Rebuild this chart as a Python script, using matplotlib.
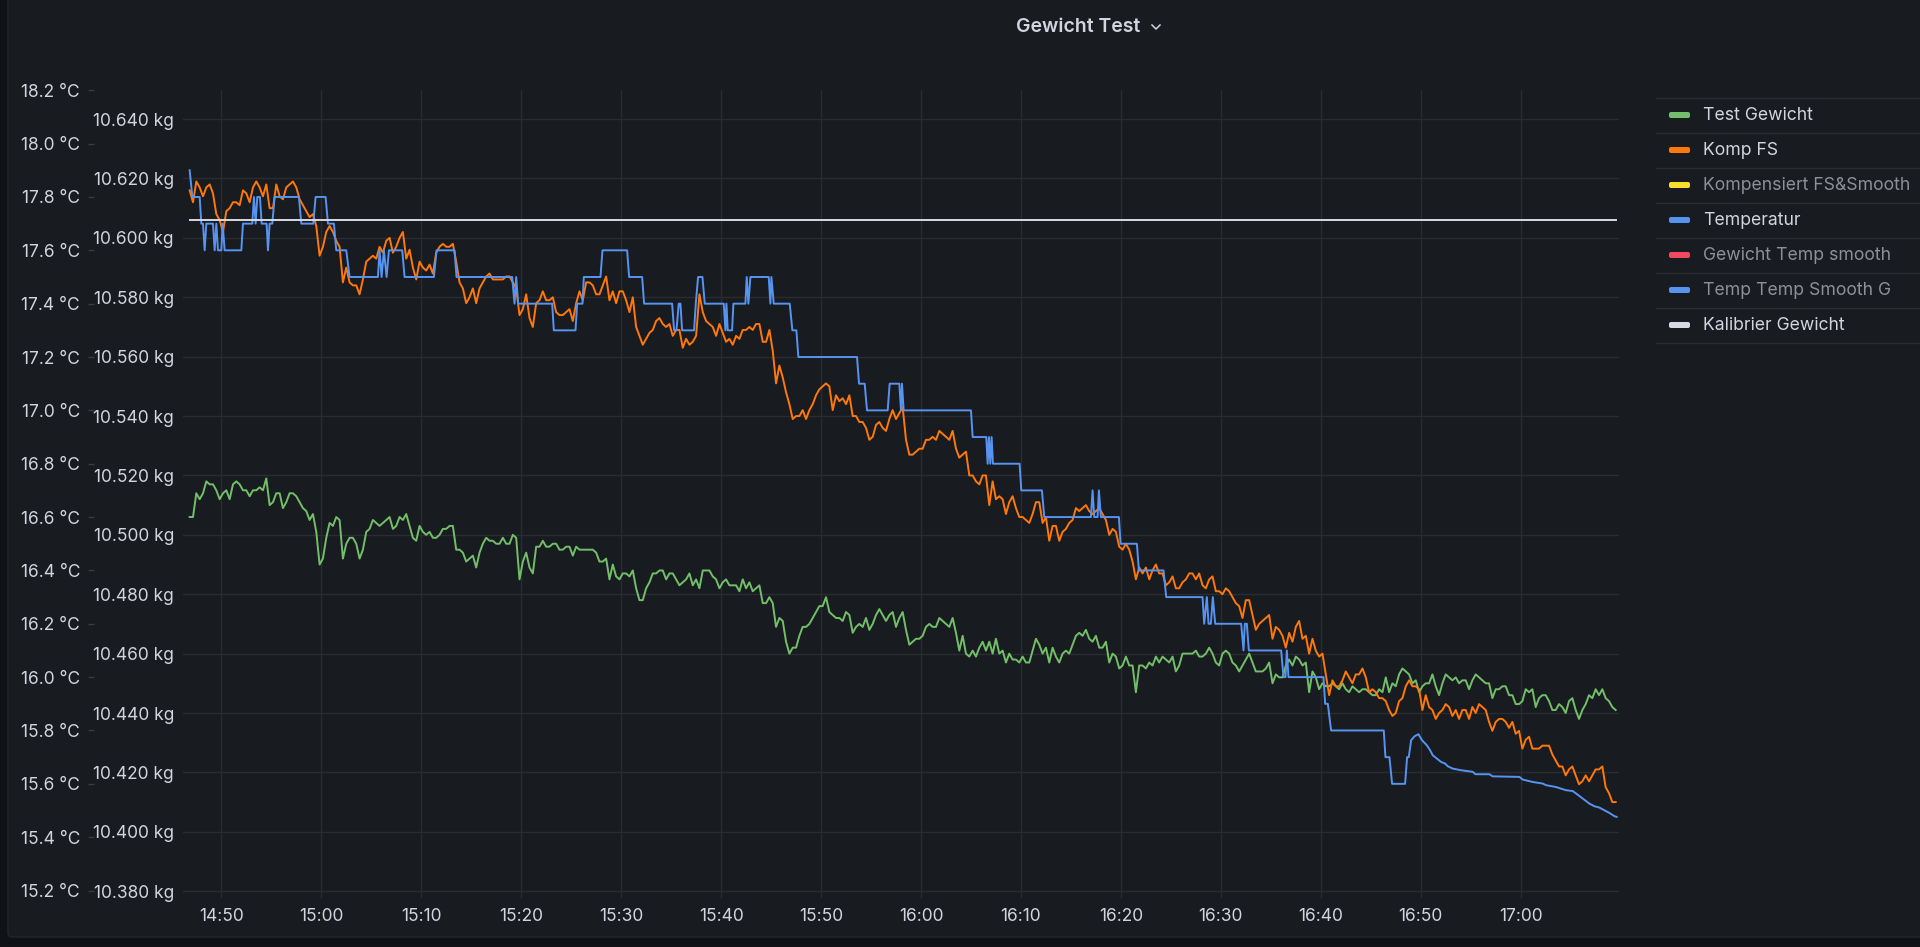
import matplotlib
matplotlib.use('Agg')
import matplotlib.pyplot as plt
import matplotlib.dates as mdates
import matplotlib.ticker as mticker
from matplotlib.patches import FancyBboxPatch
import pandas as pd

# --- data -------------------------------------------------------------
DAY = '2023-01-01'
SAMPLE_START = DAY + ' 14:46:50'   # weights are logged every 20 s
SAMPLE_STEP = '20s'

komp_fs = [
    10.616, 10.612, 10.619, 10.617, 10.614, 10.617, 10.618, 10.615, 10.608, 10.606,
    10.602, 10.609, 10.610, 10.612, 10.612, 10.611, 10.616, 10.615, 10.612, 10.617,
    10.619, 10.617, 10.614, 10.618, 10.610, 10.610, 10.618, 10.614, 10.613, 10.617,
    10.618, 10.619, 10.617, 10.613, 10.611, 10.609, 10.607, 10.608, 10.604, 10.594,
    10.597, 10.602, 10.604, 10.602, 10.599, 10.597, 10.585, 10.590, 10.585, 10.584,
    10.584, 10.581, 10.586, 10.592, 10.593, 10.594, 10.593, 10.597, 10.595, 10.599,
    10.600, 10.595, 10.597, 10.600, 10.602, 10.593, 10.596, 10.590, 10.586, 10.592,
    10.590, 10.589, 10.591, 10.588, 10.595, 10.597, 10.598, 10.597, 10.597, 10.598,
    10.592, 10.585, 10.583, 10.578, 10.580, 10.583, 10.578, 10.583, 10.585, 10.587,
    10.588, 10.586, 10.586, 10.586, 10.586, 10.587, 10.587, 10.585, 10.583, 10.574,
    10.576, 10.581, 10.573, 10.570, 10.578, 10.579, 10.582, 10.579, 10.579, 10.580,
    10.575, 10.574, 10.574, 10.575, 10.576, 10.572, 10.578, 10.582, 10.579, 10.585,
    10.585, 10.584, 10.581, 10.581, 10.584, 10.587, 10.579, 10.582, 10.578, 10.582,
    10.582, 10.579, 10.575, 10.580, 10.570, 10.567, 10.564, 10.566, 10.568, 10.569,
    10.572, 10.573, 10.571, 10.570, 10.571, 10.567, 10.569, 10.569, 10.563, 10.566,
    10.564, 10.565, 10.567, 10.581, 10.575, 10.572, 10.571, 10.570, 10.567, 10.571,
    10.568, 10.565, 10.566, 10.564, 10.567, 10.566, 10.569, 10.569, 10.570, 10.569,
    10.571, 10.571, 10.565, 10.565, 10.569, 10.562, 10.551, 10.557, 10.553, 10.548,
    10.544, 10.539, 10.540, 10.540, 10.542, 10.539, 10.542, 10.544, 10.547, 10.549,
    10.550, 10.551, 10.550, 10.542, 10.547, 10.545, 10.546, 10.544, 10.547, 10.540,
    10.540, 10.538, 10.538, 10.536, 10.532, 10.533, 10.537, 10.538, 10.536, 10.535,
    10.539, 10.542, 10.539, 10.541, 10.543, 10.532, 10.527, 10.527, 10.528, 10.529,
    10.529, 10.532, 10.532, 10.533, 10.532, 10.535, 10.534, 10.533, 10.532, 10.535,
    10.529, 10.526, 10.527, 10.528, 10.520, 10.520, 10.518, 10.517, 10.520, 10.520,
    10.510, 10.518, 10.512, 10.513, 10.512, 10.507, 10.511, 10.513, 10.509, 10.506,
    10.506, 10.505, 10.504, 10.507, 10.511, 10.511, 10.504, 10.506, 10.498, 10.503,
    10.503, 10.498, 10.501, 10.502, 10.504, 10.505, 10.509, 10.508, 10.509, 10.510,
    10.508, 10.507, 10.508, 10.509, 10.507, 10.505, 10.500, 10.502, 10.501, 10.496,
    10.495, 10.497, 10.495, 10.491, 10.485, 10.489, 10.487, 10.489, 10.485, 10.488,
    10.490, 10.487, 10.487, 10.483, 10.484, 10.486, 10.482, 10.482, 10.484, 10.485,
    10.487, 10.487, 10.485, 10.487, 10.483, 10.482, 10.485, 10.486, 10.481, 10.481,
    10.480, 10.482, 10.481, 10.479, 10.477, 10.476, 10.472, 10.478, 10.478, 10.473,
    10.468, 10.470, 10.471, 10.472, 10.473, 10.465, 10.469, 10.468, 10.466, 10.462,
    10.467, 10.464, 10.469, 10.471, 10.465, 10.466, 10.460, 10.465, 10.461, 10.459,
    10.460, 10.453, 10.446, 10.451, 10.449, 10.449, 10.451, 10.454, 10.452, 10.450,
    10.453, 10.453, 10.455, 10.452, 10.447, 10.448, 10.447, 10.445, 10.445, 10.444,
    10.441, 10.439, 10.440, 10.444, 10.445, 10.449, 10.451, 10.449, 10.449, 10.448,
    10.441, 10.446, 10.442, 10.441, 10.438, 10.440, 10.441, 10.443, 10.442, 10.439,
    10.441, 10.438, 10.441, 10.441, 10.438, 10.442, 10.440, 10.443, 10.442, 10.441,
    10.437, 10.434, 10.437, 10.438, 10.438, 10.437, 10.435, 10.437, 10.433, 10.434,
    10.428, 10.431, 10.432, 10.428, 10.428, 10.428, 10.429, 10.429, 10.429, 10.426,
    10.424, 10.422, 10.422, 10.419, 10.421, 10.422, 10.419, 10.416, 10.417, 10.419,
    10.417, 10.419, 10.421, 10.421, 10.422, 10.415, 10.413, 10.410, 10.410,
]

test_gewicht = [
    10.506, 10.506, 10.514, 10.512, 10.514, 10.518, 10.517, 10.517, 10.515, 10.512,
    10.514, 10.515, 10.512, 10.517, 10.518, 10.517, 10.515, 10.515, 10.513, 10.515,
    10.515, 10.516, 10.515, 10.519, 10.510, 10.511, 10.514, 10.514, 10.509, 10.511,
    10.514, 10.514, 10.513, 10.511, 10.509, 10.508, 10.505, 10.507, 10.501, 10.490,
    10.492, 10.499, 10.504, 10.503, 10.506, 10.505, 10.492, 10.497, 10.499, 10.499,
    10.497, 10.492, 10.495, 10.501, 10.502, 10.505, 10.504, 10.503, 10.504, 10.505,
    10.506, 10.502, 10.503, 10.506, 10.505, 10.507, 10.503, 10.499, 10.498, 10.503,
    10.501, 10.500, 10.501, 10.499, 10.499, 10.500, 10.502, 10.502, 10.503, 10.503,
    10.495, 10.495, 10.494, 10.491, 10.492, 10.493, 10.489, 10.494, 10.497, 10.499,
    10.498, 10.498, 10.497, 10.497, 10.499, 10.497, 10.497, 10.500, 10.499, 10.485,
    10.491, 10.494, 10.489, 10.487, 10.496, 10.496, 10.498, 10.496, 10.496, 10.497,
    10.497, 10.495, 10.495, 10.496, 10.496, 10.493, 10.496, 10.495, 10.495, 10.495,
    10.495, 10.495, 10.494, 10.491, 10.491, 10.492, 10.485, 10.490, 10.486, 10.485,
    10.487, 10.487, 10.486, 10.488, 10.482, 10.478, 10.478, 10.482, 10.484, 10.487,
    10.487, 10.488, 10.488, 10.485, 10.487, 10.487, 10.485, 10.483, 10.484, 10.485,
    10.487, 10.483, 10.485, 10.482, 10.488, 10.488, 10.488, 10.486, 10.485, 10.482,
    10.484, 10.485, 10.483, 10.483, 10.483, 10.481, 10.485, 10.482, 10.484, 10.481,
    10.482, 10.483, 10.477, 10.477, 10.479, 10.477, 10.469, 10.472, 10.471, 10.464,
    10.460, 10.462, 10.462, 10.466, 10.469, 10.469, 10.470, 10.472, 10.474, 10.476,
    10.476, 10.479, 10.474, 10.473, 10.472, 10.472, 10.471, 10.474, 10.473, 10.467,
    10.469, 10.470, 10.469, 10.472, 10.468, 10.470, 10.473, 10.475, 10.473, 10.471,
    10.473, 10.474, 10.469, 10.472, 10.474, 10.468, 10.463, 10.464, 10.465, 10.465,
    10.466, 10.469, 10.470, 10.469, 10.469, 10.472, 10.471, 10.470, 10.469, 10.472,
    10.467, 10.461, 10.466, 10.460, 10.459, 10.461, 10.459, 10.462, 10.464, 10.461,
    10.464, 10.460, 10.465, 10.460, 10.461, 10.457, 10.460, 10.458, 10.458, 10.457,
    10.459, 10.457, 10.457, 10.461, 10.465, 10.463, 10.460, 10.462, 10.457, 10.462,
    10.459, 10.457, 10.460, 10.461, 10.460, 10.463, 10.466, 10.467, 10.466, 10.468,
    10.465, 10.464, 10.466, 10.462, 10.462, 10.464, 10.457, 10.460, 10.459, 10.455,
    10.456, 10.459, 10.456, 10.456, 10.447, 10.456, 10.456, 10.455, 10.457, 10.456,
    10.459, 10.457, 10.459, 10.458, 10.457, 10.459, 10.454, 10.456, 10.460, 10.460,
    10.460, 10.460, 10.461, 10.459, 10.459, 10.460, 10.462, 10.460, 10.457, 10.456,
    10.460, 10.461, 10.460, 10.457, 10.456, 10.454, 10.456, 10.458, 10.460, 10.457,
    10.454, 10.454, 10.454, 10.455, 10.457, 10.450, 10.453, 10.452, 10.452, 10.456,
    10.458, 10.456, 10.459, 10.458, 10.456, 10.457, 10.447, 10.454, 10.452, 10.448,
    10.450, 10.449, 10.449, 10.450, 10.449, 10.448, 10.450, 10.448, 10.447, 10.449,
    10.448, 10.447, 10.448, 10.448, 10.447, 10.446, 10.446, 10.448, 10.447, 10.452,
    10.447, 10.450, 10.449, 10.453, 10.455, 10.454, 10.453, 10.450, 10.451, 10.447,
    10.449, 10.450, 10.450, 10.453, 10.449, 10.446, 10.450, 10.453, 10.452, 10.451,
    10.452, 10.450, 10.451, 10.451, 10.448, 10.451, 10.453, 10.452, 10.451, 10.450,
    10.450, 10.445, 10.448, 10.448, 10.449, 10.449, 10.446, 10.446, 10.443, 10.443,
    10.444, 10.448, 10.447, 10.448, 10.442, 10.445, 10.446, 10.446, 10.444, 10.441,
    10.441, 10.443, 10.442, 10.440, 10.444, 10.445, 10.441, 10.438, 10.441, 10.443,
    10.446, 10.445, 10.448, 10.446, 10.448, 10.445, 10.444, 10.442, 10.441,
]

temp_times = [
    '14:46:50', '14:47:06', '14:47:50', '14:48:00', '14:48:10', '14:48:20', '14:48:30',
    '14:49:10', '14:49:20', '14:49:30', '14:49:40', '14:50:00', '14:50:08', '14:50:20',
    '14:52:00', '14:52:10', '14:53:06', '14:53:16', '14:53:26', '14:53:36', '14:53:52',
    '14:54:02', '14:54:32', '14:54:40', '14:54:50', '14:55:06', '14:55:20', '14:57:46',
    '14:58:00', '14:59:12', '14:59:26', '15:00:26', '15:00:40', '15:01:16', '15:01:30',
    '15:02:30', '15:02:50', '15:05:40', '15:05:50', '15:06:02', '15:06:16', '15:06:32',
    '15:06:46', '15:08:06', '15:08:20', '15:11:16', '15:11:32', '15:13:20', '15:13:32',
    '15:19:06', '15:19:20', '15:19:30', '15:19:42', '15:23:06', '15:23:16', '15:25:26',
    '15:25:36', '15:26:08', '15:26:16', '15:27:56', '15:28:08', '15:30:36', '15:30:48',
    '15:32:06', '15:32:18', '15:35:06', '15:35:18', '15:35:32', '15:35:46', '15:35:56',
    '15:36:06', '15:37:18', '15:37:28', '15:37:42', '15:38:08', '15:38:22', '15:40:16',
    '15:40:26', '15:40:32', '15:40:40', '15:41:06', '15:41:14', '15:42:26', '15:42:34',
    '15:42:44', '15:42:56', '15:44:46', '15:44:56', '15:45:02', '15:45:16', '15:46:52',
    '15:47:08', '15:47:32', '15:47:44', '15:53:36', '15:53:48', '15:54:22', '15:54:36',
    '15:56:40', '15:56:52', '15:57:50', '15:58:00', '15:58:06', '15:58:16', '16:05:00',
    '16:05:10', '16:06:32', '16:06:40', '16:06:48', '16:06:56', '16:07:04', '16:07:12',
    '16:09:52', '16:10:02', '16:12:06', '16:12:20', '16:17:00', '16:17:10', '16:17:20',
    '16:17:40', '16:17:48', '16:18:00', '16:19:48', '16:19:58', '16:21:36', '16:21:48',
    '16:24:16', '16:24:32', '16:28:10', '16:28:20', '16:28:36', '16:28:46', '16:29:00',
    '16:29:12', '16:29:26', '16:32:02', '16:32:16', '16:32:24', '16:32:36', '16:32:48',
    '16:36:02', '16:36:16', '16:36:28', '16:36:36', '16:36:46', '16:40:16', '16:40:26',
    '16:40:42', '16:41:02', '16:46:18', '16:46:28', '16:46:52', '16:47:08', '16:48:26',
    '16:48:38', '16:48:48', '16:49:02', '16:49:22', '16:49:46', '16:50:08', '16:50:36',
    '16:50:56', '16:51:12', '16:51:36', '16:52:02', '16:52:26', '16:52:42', '16:53:12',
    '16:54:02', '16:55:12', '16:55:28', '16:56:52', '16:57:12', '16:59:52', '17:00:12',
    '17:01:12', '17:02:12', '17:02:32', '17:03:32', '17:04:32', '17:05:12', '17:05:32',
    '17:06:12', '17:06:52', '17:07:22', '17:07:52', '17:08:22', '17:08:52', '17:09:22',
    '17:09:36',
]
temperatur = [
    17.9, 17.8, 17.8, 17.7, 17.7, 17.6, 17.7,
    17.7, 17.6, 17.7, 17.6, 17.6, 17.7, 17.6,
    17.6, 17.7, 17.7, 17.8, 17.7, 17.8, 17.8,
    17.7, 17.7, 17.6, 17.7, 17.7, 17.8, 17.8,
    17.7, 17.7, 17.8, 17.8, 17.7, 17.7, 17.6,
    17.6, 17.5, 17.5, 17.6, 17.5, 17.6, 17.5,
    17.6, 17.6, 17.5, 17.5, 17.6, 17.6, 17.5,
    17.5, 17.4, 17.5, 17.4, 17.4, 17.3, 17.3,
    17.4, 17.4, 17.5, 17.5, 17.6, 17.6, 17.5,
    17.5, 17.4, 17.4, 17.3, 17.3, 17.4, 17.4,
    17.3, 17.3, 17.4, 17.5, 17.5, 17.4, 17.4,
    17.3, 17.4, 17.3, 17.3, 17.4, 17.4, 17.5,
    17.4, 17.5, 17.5, 17.4, 17.5, 17.4, 17.4,
    17.3, 17.3, 17.2, 17.2, 17.1, 17.1, 17.0,
    17.0, 17.1, 17.1, 17.0, 17.1, 17.0, 17.0,
    16.9, 16.9, 16.8, 16.9, 16.8, 16.9, 16.8,
    16.8, 16.7, 16.7, 16.6, 16.6, 16.7, 16.6,
    16.6, 16.7, 16.6, 16.6, 16.5, 16.5, 16.4,
    16.4, 16.3, 16.3, 16.2, 16.3, 16.2, 16.2,
    16.3, 16.2, 16.2, 16.1, 16.2, 16.2, 16.1,
    16.1, 16.0, 16.0, 16.1, 16.0, 16.0, 15.9,
    15.9, 15.8, 15.8, 15.7, 15.7, 15.6, 15.6,
    15.7, 15.7, 15.763, 15.778, 15.786, 15.763, 15.745,
    15.726, 15.707, 15.695, 15.682, 15.676, 15.666, 15.657,
    15.651, 15.645, 15.636, 15.636, 15.628, 15.626, 15.616,
    15.607, 15.601, 15.595, 15.588, 15.576, 15.573, 15.564,
    15.545, 15.526, 15.516, 15.511, 15.501, 15.491, 15.479,
    15.476,
]

kalib_times = ['14:46:50', '17:09:30']
kalib_gewicht = [10.606, 10.606]

legend_names = ['Test Gewicht', 'Komp FS', 'Kompensiert FS&Smooth', 'Temperatur',
                'Gewicht Temp smooth', 'Temp Temp Smooth G', 'Kalibrier Gewicht']
legend_colors = ['#73bf69', '#ff780a', '#fade2a', '#5794f2', '#f2495c', '#5794f2', '#d8d9e3']
legend_hidden = [False, False, True, False, True, True, False]

kg_ticks = [10.38 + 0.02 * i for i in range(14)]
c_ticks = [15.2 + 0.2 * i for i in range(16)]

# --- style --------------------------------------------------------------
BG = '#111217'
PANEL = '#181b1f'
TEXT = '#d4d4e0'
DIM = '#8e8f99'
GRID = '#2a2c31'

plt.rcParams['font.family'] = ['Inter', 'DejaVu Sans']

W, H = 1920, 947
fig = plt.figure(figsize=(W / 100, H / 100), dpi=100, facecolor=BG)

# panel background, title, legend (pixel coordinates)
bg = fig.add_axes([0, 0, 1, 1], zorder=0)
bg.set_xlim(0, W)
bg.set_ylim(H, 0)
bg.axis('off')
bg.add_patch(FancyBboxPatch((8, -20), 1940, 957, boxstyle='round,pad=0,rounding_size=4',
                            fc=PANEL, ec='#24262b', lw=1))
bg.text(1078, 27, 'Gewicht Test', ha='center', va='center', fontsize=14,
        fontweight='semibold', color=TEXT)
bg.plot([1152, 1156, 1160], [25, 29, 25], color=TEXT, lw=1.1)

row_h = 35
for i, (name, col, hid) in enumerate(zip(legend_names, legend_colors, legend_hidden)):
    yc = 115 + i * row_h
    bg.plot([1656, W], [yc - 17.5, yc - 17.5], color=GRID, lw=1)
    bg.add_patch(FancyBboxPatch((1669, yc - 3), 21, 6, boxstyle='round,pad=0,rounding_size=2',
                                fc=col, ec='none'))
    bg.text(1703, yc, name, ha='left', va='center', fontsize=12.7,
            color=DIM if hid else TEXT)
bg.plot([1656, W], [115 + 6.5 * row_h, 115 + 6.5 * row_h], color=GRID, lw=1)

# plot area
left, right, top, bottom = 183, 1619, 90, 898
ax = fig.add_axes([left / W, 1 - bottom / H, (right - left) / W, (bottom - top) / H], zorder=1)
ax.patch.set_alpha(0)
ax2 = ax.twinx()
ax3 = ax.twinx()

t_samples = pd.date_range(SAMPLE_START, periods=len(komp_fs), freq=SAMPLE_STEP)
t_temp = pd.to_datetime([DAY + ' ' + s for s in temp_times])
t_kalib = pd.to_datetime([DAY + ' ' + s for s in kalib_times])

ax.plot(t_samples, test_gewicht, color='#73bf69', lw=1.4)
ax.plot(t_samples, komp_fs, color='#ff780a', lw=1.4)
ax2.plot(t_temp, temperatur, color='#5794f2', lw=1.4)
ax3.plot(t_kalib, kalib_gewicht, color='#d8d9e3', lw=1.4)

kg_lim = (10.3777, 10.6498)
ax.set_ylim(*kg_lim)
ax3.set_ylim(*kg_lim)
ax2.set_ylim(15.172, 18.201)
ax.set_xlim(pd.Timestamp(DAY + ' 14:46:10'), pd.Timestamp(DAY + ' 17:09:50'))

ax.yaxis.set_major_locator(mticker.FixedLocator(kg_ticks))
ax.yaxis.set_major_formatter(mticker.FuncFormatter(lambda v, p: f'{v:.3f} kg'))
ax.xaxis.set_major_locator(mdates.MinuteLocator(byminute=range(0, 60, 10)))
ax.xaxis.set_major_formatter(mdates.DateFormatter('%H:%M'))
ax.grid(True, color=GRID, lw=1)
ax.tick_params(axis='both', length=0, colors=TEXT, labelsize=12.5)
ax.tick_params(axis='y', pad=6.5)
ax.tick_params(axis='x', pad=7.5)

ax2.yaxis.set_ticks_position('left')
ax2.spines['left'].set_position(('outward', 64))
ax2.yaxis.set_major_locator(mticker.FixedLocator(c_ticks))
ax2.yaxis.set_major_formatter(mticker.FuncFormatter(lambda v, p: f'{v:.1f} °C'))
ax2.tick_params(axis='y', left=True, right=False, labelleft=True, labelright=False,
                length=4.3, width=1, color='#3a3c42', labelcolor=TEXT, labelsize=12.5, pad=5.8)
ax3.axis('off')

for a in (ax, ax2, ax3):
    for s in a.spines.values():
        s.set_visible(False)

fig.savefig('out.png', dpi=100, facecolor=BG)
